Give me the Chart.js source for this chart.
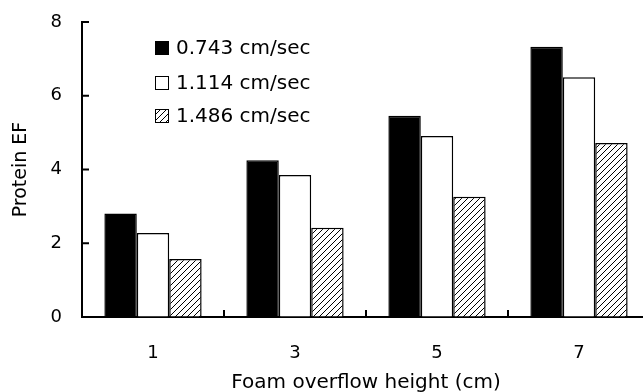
<!DOCTYPE html>
<html>
<head>
<meta charset="utf-8">
<script src="https://cdn.jsdelivr.net/npm/chart.js@4.4.1/dist/chart.umd.min.js"></script>
<style>
html,body{margin:0;padding:0;background:#fff;overflow:hidden;}
#wrap{width:650px;height:392px;}
</style>
</head>
<body>
<div id="wrap"><canvas id="c" width="650" height="392"></canvas></div>
<script>
const categories = ['1', '3', '5', '7'];
const seriesNames = ['0.743 cm/sec', '1.114 cm/sec', '1.486 cm/sec'];
const v0743 = [2.81, 4.25, 5.46, 7.33];
const v1114 = [2.28, 3.85, 4.91, 6.50];
const v1486 = [1.57, 2.42, 3.26, 4.72];
const yTicks = [0, 2, 4, 6, 8];

const FONT = "'DejaVu Sans', sans-serif";

function hatch() {
  const s = 6;
  const p = document.createElement('canvas');
  p.width = s; p.height = s;
  const g = p.getContext('2d');
  g.fillStyle = '#fff'; g.fillRect(0, 0, s, s);
  g.strokeStyle = '#000'; g.lineWidth = 1;
  g.beginPath();
  g.moveTo(0, s); g.lineTo(s, 0);
  g.moveTo(-s/2, s/2); g.lineTo(s/2, -s/2);
  g.moveTo(s/2, s*1.5); g.lineTo(s*1.5, s/2);
  g.stroke();
  return g.createPattern(p, 'repeat');
}
const hatchPat = hatch();

const innerTicks = {
  id: 'innerTicks',
  afterDraw(chart) {
    const ctx = chart.ctx, a = chart.chartArea;
    const x = chart.scales.x, y = chart.scales.y;
    ctx.save();
    ctx.strokeStyle = '#000'; ctx.lineWidth = 2;
    ctx.beginPath();
    yTicks.forEach(v => {
      if (v === 0) return;
      const py = y.getPixelForValue(v);
      ctx.moveTo(a.left, py); ctx.lineTo(a.left + 7, py);
    });
    for (let i = 1; i < categories.length; i++) {
      const px = (x.getPixelForValue(i - 1) + x.getPixelForValue(i)) / 2;
      ctx.moveTo(px, a.bottom); ctx.lineTo(px, a.bottom - 7);
    }
    ctx.stroke();
    ctx.restore();
  }
};

const customLegend = {
  id: 'customLegend',
  afterDraw(chart) {
    const ctx = chart.ctx, a = chart.chartArea;
    const x0 = a.left + 73, rows = [48, 83, 116];
    ctx.save();
    ctx.font = '20px ' + FONT;
    ctx.textBaseline = 'middle';
    ctx.textAlign = 'left';
    chart.data.datasets.forEach((ds, i) => {
      const cy = rows[i];
      ctx.fillStyle = ds.backgroundColor;
      ctx.fillRect(x0, cy - 7, 14, 14);
      ctx.strokeStyle = '#000'; ctx.lineWidth = 1;
      ctx.strokeRect(x0 + 0.5, cy - 6.5, 13, 13);
      ctx.fillStyle = '#000';
      ctx.fillText(ds.label, x0 + 21, cy + 1);
    });
    ctx.restore();
  }
};

new Chart(document.getElementById('c'), {
  type: 'bar',
  data: {
    labels: categories,
    datasets: [
      { label: seriesNames[0], data: v0743, backgroundColor: '#000', borderColor: '#000', borderWidth: 1.5 },
      { label: seriesNames[1], data: v1114, backgroundColor: '#fff', borderColor: '#000', borderWidth: 1.5 },
      { label: seriesNames[2], data: v1486, backgroundColor: hatchPat, borderColor: '#000', borderWidth: 1.5 }
    ]
  },
  options: {
    responsive: false,
    animation: false,
    devicePixelRatio: 1,
    layout: { padding: { top: 22, right: 0, left: 0, bottom: -3 } },
    plugins: { legend: { display: false }, tooltip: { enabled: false } },
    datasets: { bar: { barPercentage: 1, categoryPercentage: 0.685 } },
    scales: {
      x: {
        grid: { display: true, drawOnChartArea: false, drawTicks: false },
        border: { color: '#000', width: 2 },
        ticks: { color: '#000', font: { family: FONT, size: 18 }, padding: 26 },
        title: { display: true, text: 'Foam overflow height (cm)', color: '#000', font: { family: FONT, size: 20 }, padding: { top: 0, bottom: 0 } },
        afterFit(s) { s.height = 78; }
      },
      y: {
        min: 0, max: 8,
        grid: { display: true, drawOnChartArea: false, drawTicks: false },
        border: { color: '#000', width: 2 },
        ticks: { stepSize: 2, color: '#000', font: { family: FONT, size: 18 }, padding: 20 },
        title: { display: true, text: 'Protein EF', color: '#000', font: { family: FONT, size: 19 }, padding: { top: 10, bottom: 0 } },
        afterFit(s) { s.width = 82; s.paddingTop = 0; s.paddingBottom = 0; }
      }
    }
  },
  plugins: [innerTicks, customLegend]
});
</script>
</body>
</html>
